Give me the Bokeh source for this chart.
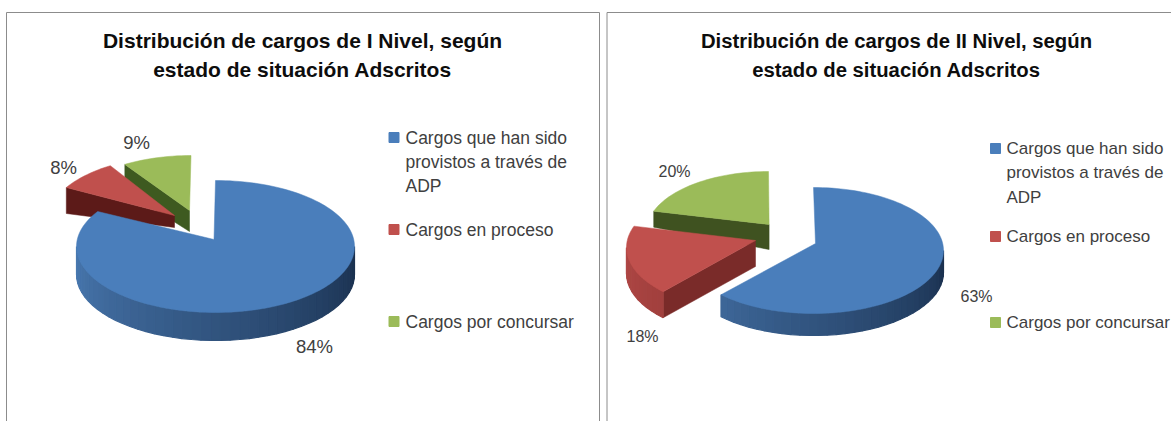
import math
from bokeh.plotting import figure
from bokeh.layouts import row
from bokeh.models import Range1d
from bokeh.core.properties import value
from bokeh.embed import file_html
from bokeh.resources import INLINE

titles_1 = ["Distribución de cargos de I Nivel, según", "estado de situación Adscritos"]
titles_2 = ["Distribución de cargos de II Nivel, según", "estado de situación Adscritos"]
legend_lines = [["Cargos que han sido", "provistos a través de", "ADP"], ["Cargos en proceso"], ["Cargos por concursar"]]
values_1 = [83.9, 7.6, 8.5]
values_2 = [62.6, 17.9, 19.5]
labels_1 = ["84%", "8%", "9%"]
labels_2 = ["63%", "18%", "20%"]

TOP = ["#4a7ebb", "#c0504d", "#9bbb59"]
CUT = ["#2a4a70", "#5c1a18", "#3e5a20"]
CUT2 = ["#2a4a70", "#7a2b29", "#3f5220"]
LEFT = [(74, 122, 178), (176, 72, 70), (120, 150, 70)]
RIGHT = [(26, 48, 78), (120, 40, 38), (70, 90, 40)]
FONT = value("Liberation Sans")

def hexc(a, b, t):
    return "#%02x%02x%02x" % tuple(int(a[i] + (b[i] - a[i]) * t) for i in range(3))

def pt(g, deg, dz=0):
    r = math.radians(deg)
    return g["c"][0] + g["rx"] * math.sin(r), g["c"][1] - g["ry"] * math.cos(r) + dz

def draw_pie(p, vals, geoms, cuts):
    total = sum(vals)
    spans, a = [], 0.0
    for v in vals:
        spans.append((a, a + 360.0 * v / total))
        a += 360.0 * v / total
    for i in (2, 1, 0):
        g, (a0, a1) = geoms[i], spans[i]
        if i > 0:
            x0, y0 = pt(g, a0)
            p.patch([x0, g["a"][0], g["a"][0], x0],
                    [y0, g["a"][1], g["a"][1] + g["ad"], y0 + g["d"]],
                    fill_color=cuts[i], line_color=cuts[i], line_width=0.5)
        # outer wall, shaded by angle; each strip overlaps the next one to hide seams
        lo, hi = max(a0, 90), min(a1, 270)
        deg = lo
        while deg < hi:
            nx = min(deg + 4, hi)
            x1, y1 = pt(g, deg)
            x2, y2 = pt(g, nx)
            col = hexc(RIGHT[i], LEFT[i], (deg - 90) / 180)
            p.patch([x1, x2, x2, x1], [y1, y2, y2 + g["d"], y1 + g["d"]],
                    fill_color=col, line_color=col, line_width=1.2)
            deg = nx
        # top face
        n = max(8, int((a1 - a0) / 2))
        arc = [pt(g, a0 + (a1 - a0) * k / n) for k in range(n + 1)]
        p.patch([g["a"][0]] + [q[0] for q in arc], [g["a"][1]] + [q[1] for q in arc],
                fill_color=TOP[i], line_color=TOP[i], line_width=0.5)

def panel(width, x0, x1, box_left, box_right, titles, tx, tys, vals, geoms, cuts, labels, label_pos,
          mx, tx_leg, leg_ys, title_size, label_size, legend_size):
    p = figure(width=width, height=421, x_range=Range1d(x0, x1), y_range=Range1d(421, 0),
               output_backend="svg", toolbar_location=None, min_border=0)
    p.axis.visible = False
    p.grid.visible = False
    p.outline_line_color = None
    p.background_fill_color = "white"
    p.border_fill_color = "white"
    p.line([box_left, box_left, box_right, box_right], [421, 12, 12, 421], line_color="#8c8c8c", line_width=1)
    p.text([tx] * 2, tys, text=titles, text_font=FONT, text_font_style="bold", text_font_size=title_size,
           text_color="#0d0d0d", text_align="center", text_baseline="middle")
    draw_pie(p, vals, geoms, cuts)
    p.text([q[0] for q in label_pos], [q[1] for q in label_pos], text=labels, text_font=FONT,
           text_font_size=label_size, text_color="#404040", text_align="center", text_baseline="middle")
    k = 0
    for i, lines in enumerate(legend_lines):
        p.scatter([mx], [leg_ys[k]], marker="square", size=10, fill_color=TOP[i], line_color=TOP[i])
        for ln in lines:
            p.text([tx_leg], [leg_ys[k]], text=[ln], text_font=FONT, text_font_size=legend_size, text_color="#404040",
                   text_align="left", text_baseline="middle")
            k += 1
    return p

geoms_1 = [
    dict(c=(215, 246), a=(213.5, 239), rx=139, ry=66, d=28, ad=0),
    dict(c=(176, 222), a=(174, 215), rx=130, ry=66, d=26, ad=12),
    dict(c=(190.5, 219), a=(189, 210), rx=130, ry=64, d=26, ad=21),
]
geoms_2 = [
    dict(c=(813, 250), a=(815, 243), rx=130, ry=63, d=22, ad=0),
    dict(c=(753, 247), a=(755, 240), rx=127, ry=63, d=26, ad=26),
    dict(c=(768, 231), a=(768.6, 224), rx=122, ry=60, d=16, ad=25),
]
p1 = panel(603, 0, 603, 6, 599, titles_1, 302, [40, 69], values_1, geoms_1, CUT, labels_1,
           [(314, 346), (63, 167), (136, 142)], 393.5, 405, [137, 161, 185, 229, 321],
           "21px", "18.5px", "17.5px")
p2 = panel(568, 603, 1171, 606.5, 1300, titles_2, 896, [40, 69], values_2, geoms_2, CUT2, labels_2,
           [(976, 296), (642, 336), (674, 171)], 995, 1006, [148, 172, 197, 236, 322],
           "20.3px", "16px", "17px")
layout = row(p1, p2, spacing=0)
open("out.html", "w").write(file_html(layout, INLINE))
